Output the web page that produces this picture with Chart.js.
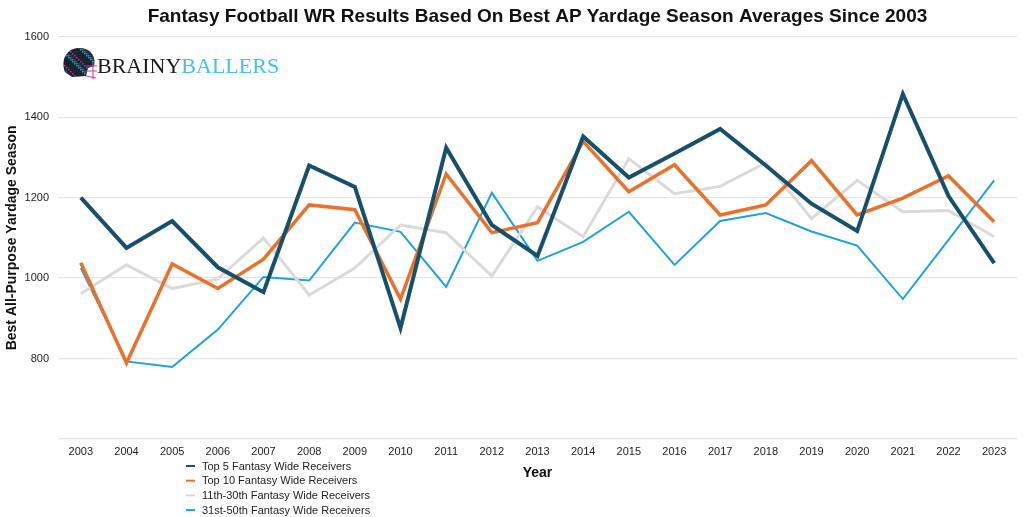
<!DOCTYPE html>
<html>
<head>
<meta charset="utf-8">
<script src="https://cdn.jsdelivr.net/npm/chart.js@4.4.1/dist/chart.umd.min.js"></script>
<style>
  html, body { margin: 0; padding: 0; background: #fff; }
  #wrap { width: 1024px; height: 517px; position: relative; }
</style>
</head>
<body>
<div id="wrap"><canvas id="wrChart"></canvas></div>
<script>
const years = ['2003','2004','2005','2006','2007','2008','2009','2010','2011','2012','2013',
               '2014','2015','2016','2017','2018','2019','2020','2021','2022','2023'];

const top5 = [1200, 1075, 1142, 1027, 965, 1280, 1227, 876, 1324, 1132, 1055,
              1352, 1250, 1310, 1371, 1280, 1185, 1117, 1458, 1204, 1037];
const top10 = [1038, 789, 1035, 974, 1047, 1182, 1170, 948, 1259, 1113, 1138,
               1340, 1215, 1282, 1157, 1182, 1292, 1157, 1199, 1254, 1140];
const mid11to30 = [961, 1033, 974, 998, 1100, 958, 1025, 1132, 1113, 1005, 1177,
                   1103, 1297, 1210, 1228, 1287, 1148, 1243, 1165, 1168, 1103];
const low31to50 = [1025, 793, 779, 872, 1003, 994, 1138, 1115, 978, 1212, 1043,
                   1090, 1165, 1033, 1142, 1162, 1116, 1081, 948, 1095, 1243];

const yTicks = [600, 800, 1000, 1200, 1400, 1600];

const FONT = '"Liberation Sans", Arial, Helvetica, sans-serif';

function makeSet(label, data, color, width){
    return {
        label: label,
        data: data,
        borderColor: color,
        backgroundColor: color,
        borderWidth: width,
        pointRadius: 0,
        tension: 0,
        fill: false
    };
}

// legend stacked under the x labels, left of the "Year" title
const stackedLegend = {
    id: 'stackedLegend',
    afterDraw(chart){
        const ctx = chart.ctx;
        ctx.save();
        ctx.font = '11px ' + FONT;
        ctx.textBaseline = 'middle';
        chart.data.datasets.forEach((ds, i) => {
            const y = 466 + i * 14.7;
            ctx.strokeStyle = ds.borderColor;
            ctx.lineWidth = 2;
            ctx.beginPath();
            ctx.moveTo(186, y);
            ctx.lineTo(195, y);
            ctx.stroke();
            ctx.fillStyle = '#222';
            ctx.fillText(ds.label, 202, y + 0.5);
        });
        ctx.restore();
    }
};

// site logo in the top left corner of the plot
const logo = {
    id: 'logo',
    afterDraw(chart){
        const ctx = chart.ctx;
        ctx.save();
        // helmet shell
        ctx.beginPath();
        ctx.moveTo(65, 72);
        ctx.bezierCurveTo(60, 58, 68, 47, 81, 48);
        ctx.bezierCurveTo(92, 49, 96, 58, 94, 66);
        ctx.lineTo(88, 68);
        ctx.lineTo(86, 76);
        ctx.lineTo(72, 77);
        ctx.closePath();
        ctx.fillStyle = '#1e2230';
        ctx.fill();
        ctx.clip();
        const speck = ['#2aa6b8', '#b23a8c', '#3b3f55', '#1b8fa6'];
        let n = 0;
        for (let y = 47; y < 78; y += 2) {
            for (let x = 60; x < 97; x += 2) {
                n = (n * 7 + 3) % 11;
                if (n < 4) {
                    ctx.fillStyle = speck[n];
                    ctx.fillRect(x, y, 1.5, 1.5);
                }
            }
        }
        ctx.restore();
        ctx.save();
        // face mask
        ctx.strokeStyle = '#c24aa0';
        ctx.lineWidth = 1.1;
        ctx.beginPath();
        ctx.moveTo(86, 66); ctx.lineTo(97, 66);
        ctx.moveTo(86, 71); ctx.lineTo(97, 71);
        ctx.moveTo(86, 76); ctx.lineTo(96, 78);
        ctx.moveTo(93, 62); ctx.lineTo(93, 79);
        ctx.stroke();
        // wordmark
        ctx.font = '22px "Liberation Serif", "DejaVu Serif", serif';
        ctx.textBaseline = 'alphabetic';
        ctx.fillStyle = '#1b1b1b';
        ctx.fillText('BRAINY', 97, 73);
        const w = ctx.measureText('BRAINY').width;
        ctx.fillStyle = '#4cbfe6';
        ctx.fillText('BALLERS', 97 + w, 73);
        ctx.restore();
    }
};

new Chart(document.getElementById('wrChart'), {
    type: 'line',
    data: {
        labels: years,
        datasets: [
            makeSet('Top 5 Fantasy Wide Receivers', top5, '#17506a', 4),
            makeSet('Top 10 Fantasy Wide Receivers', top10, '#e8712d', 3.5),
            makeSet('11th-30th Fantasy Wide Receivers', mid11to30, '#dadada', 3),
            makeSet('31st-50th Fantasy Wide Receivers', low31to50, '#1fa2d6', 2)
        ]
    },
    options: {
        responsive: true,
        maintainAspectRatio: false,
        animation: false,
        layout: { padding: { left: 0, right: 7, top: 0, bottom: 35 } },
        plugins: {
            legend: { display: false },
            tooltip: { enabled: false },
            title: {
                display: true,
                fullSize: false,
                text: 'Fantasy Football WR Results Based On Best AP Yardage Season Averages Since 2003',
                color: '#111',
                font: { family: FONT, size: 19, weight: 'bold' },
                padding: { top: 5, bottom: 9 }
            }
        },
        scales: {
            x: {
                offset: true,
                grid: { display: false, drawTicks: false },
                border: { display: false },
                ticks: { color: '#222', font: { family: FONT, size: 11 }, padding: 6, maxRotation: 0, autoSkip: false },
                title: {
                    display: true,
                    text: 'Year',
                    color: '#111',
                    font: { family: FONT, size: 14, weight: 'bold' },
                    padding: { top: 1, bottom: 0 }
                }
            },
            y: {
                min: yTicks[0],
                max: yTicks[yTicks.length - 1],
                afterBuildTicks(axis){
                    axis.ticks = yTicks.map(v => ({ value: v }));
                },
                afterFit(axis){
                    axis.width = 58;
                },
                grid: { color: '#e6e6e6', lineWidth: 1.3, drawTicks: false },
                border: { display: false },
                ticks: {
                    color: '#222',
                    font: { family: FONT, size: 11 },
                    padding: 9,
                    callback: v => (v === yTicks[0] ? '' : v)
                },
                title: {
                    display: true,
                    text: 'Best All-Purpose Yardage Season',
                    color: '#111',
                    font: { family: FONT, size: 14, weight: 'bold' },
                    padding: { top: 4, bottom: 0 }
                }
            }
        }
    },
    plugins: [stackedLegend, logo]
});
</script>
</body>
</html>
